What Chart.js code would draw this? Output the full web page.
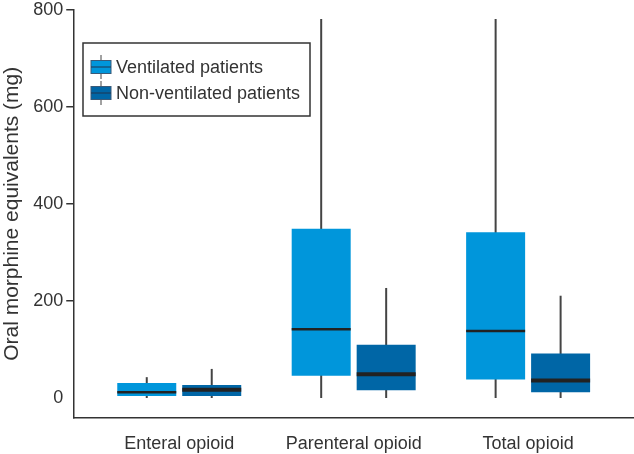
<!DOCTYPE html>
<html>
<head>
<meta charset="utf-8">
<script src="https://cdn.jsdelivr.net/npm/chart.js@4"></script>
<style>
  body { margin: 0; background: #fff; }
  #wrap { width: 634px; height: 454px; }
</style>
</head>
<body>
<div id="wrap"><canvas id="boxChart"></canvas></div>
<script>
// categories and tick values
const categories = ['Enteral opioid', 'Parenteral opioid', 'Total opioid'];
const yTicks = [0, 200, 400, 600, 800];

// ventilated patients (mg)
const ventMin = [0, 0, 0];
const ventQ1 = [4, 46, 38];
const ventMedian = [12, 142, 138];
const ventQ3 = [31, 349, 342];
const ventMax = [43, 782, 782];

// non-ventilated patients (mg)
const nonMin = [0, 0, 0];
const nonQ1 = [4, 16, 12];
const nonMedian = [17, 49, 36];
const nonQ3 = [27, 110, 92];
const nonMax = [60, 227, 211];

const FONT = "'Liberation Sans', Arial, sans-serif";
const INK = '#333';

function boxData(q1, q3) {
    return categories.map((c, i) => ({ x: i, y: [q1[i], q3[i]] }));
}

// whiskers go behind the boxes, medians on top
const boxParts = {
    id: 'boxParts',
    beforeDatasetsDraw(chart) {
        const ctx = chart.ctx;
        const y = chart.scales.y;
        chart.data.datasets.forEach((ds, d) => {
            const meta = chart.getDatasetMeta(d);
            meta.data.forEach((bar, i) => {
                ctx.save();
                ctx.strokeStyle = '#444';
                ctx.lineWidth = 2;
                ctx.beginPath();
                ctx.moveTo(bar.x, y.getPixelForValue(ds.whiskerMin[i]));
                ctx.lineTo(bar.x, y.getPixelForValue(ds.whiskerMax[i]));
                ctx.stroke();
                ctx.restore();
            });
        });
    },
    afterDatasetsDraw(chart) {
        const ctx = chart.ctx;
        const y = chart.scales.y;
        chart.data.datasets.forEach((ds, d) => {
            const meta = chart.getDatasetMeta(d);
            meta.data.forEach((bar, i) => {
                const py = y.getPixelForValue(ds.median[i]);
                ctx.save();
                ctx.strokeStyle = '#222';
                ctx.lineWidth = ds.medianWidth;
                ctx.beginPath();
                ctx.moveTo(bar.x - bar.width / 2, py);
                ctx.lineTo(bar.x + bar.width / 2, py);
                ctx.stroke();
                ctx.restore();
            });
        });
    }
};

// framed legend with small box-plot icons
const boxLegend = {
    id: 'boxLegend',
    afterDraw(chart) {
        const ctx = chart.ctx;
        const left = 83, top = 43, w = 227, h = 73;
        ctx.save();
        ctx.fillStyle = '#fff';
        ctx.fillRect(left, top, w, h);
        ctx.strokeStyle = INK;
        ctx.lineWidth = 1.5;
        ctx.strokeRect(left, top, w, h);
        chart.data.datasets.forEach((ds, d) => {
            const cy = 67 + d * 26;
            const ix = 91, iw = 20, ih = 13;
            ctx.strokeStyle = '#444';
            ctx.lineWidth = 1;
            ctx.beginPath();
            ctx.moveTo(ix + iw / 2, cy - 12);
            ctx.lineTo(ix + iw / 2, cy + 12);
            ctx.stroke();
            ctx.fillStyle = ds.backgroundColor;
            ctx.fillRect(ix, cy - ih / 2, iw, ih);
            ctx.strokeStyle = '#3a5a78';
            ctx.strokeRect(ix, cy - ih / 2, iw, ih);
            ctx.strokeStyle = '#1f3550';
            ctx.beginPath();
            ctx.moveTo(ix, cy);
            ctx.lineTo(ix + iw, cy);
            ctx.stroke();
            ctx.fillStyle = INK;
            ctx.font = '18px ' + FONT;
            ctx.textBaseline = 'middle';
            ctx.fillText(ds.label, 116, cy + 1);
        });
        ctx.restore();
    }
};

const ctx = document.getElementById('boxChart').getContext('2d');
new Chart(ctx, {
    type: 'bar',
    data: {
        datasets: [
            {
                label: 'Ventilated patients',
                data: boxData(ventQ1, ventQ3),
                median: ventMedian,
                whiskerMin: ventMin,
                whiskerMax: ventMax,
                medianWidth: 2.5,
                backgroundColor: '#0096db',
                borderWidth: 0,
                categoryPercentage: 0.745,
                barPercentage: 0.908
            },
            {
                label: 'Non-ventilated patients',
                data: boxData(nonQ1, nonQ3),
                median: nonMedian,
                whiskerMin: nonMin,
                whiskerMax: nonMax,
                medianWidth: 4,
                backgroundColor: '#0066a6',
                borderWidth: 0,
                categoryPercentage: 0.745,
                barPercentage: 0.908
            }
        ]
    },
    options: {
        responsive: true,
        maintainAspectRatio: false,
        animation: false,
        layout: { padding: { top: 0, right: 0, left: 0, bottom: -17 } },
        scales: {
            x: {
                type: 'linear',
                offset: false,
                min: -0.602,
                max: 2.607,
                afterBuildTicks: (scale) => {
                    scale.ticks = categories.map((c, i) => ({ value: i }));
                },
                ticks: {
                    callback: (v) => categories[v],
                    font: { family: FONT, size: 18 },
                    color: INK,
                    padding: 16,
                    maxRotation: 0
                },
                grid: { display: false, drawTicks: false },
                border: { display: true, color: INK, width: 1.5 }
            },
            y: {
                min: -40,
                max: 800,
                afterBuildTicks: (scale) => {
                    scale.ticks = yTicks.map(v => ({ value: v }));
                },
                ticks: {
                    font: { family: FONT, size: 18, lineHeight: 0.8 },
                    color: INK,
                    padding: 3
                },
                grid: {
                    drawOnChartArea: false,
                    drawTicks: true,
                    tickLength: 8,
                    // no tick mark at zero in the original
                    color: (c) => (c.tick && c.tick.value === 0) ? 'rgba(0,0,0,0)' : INK,
                    lineWidth: 1.5
                },
                border: { display: true, color: INK, width: 1.5 },
                title: {
                    display: true,
                    text: 'Oral morphine equivalents (mg)',
                    font: { family: FONT, size: 21 },
                    color: INK,
                    padding: { top: 0, bottom: 5 }
                }
            }
        },
        plugins: {
            legend: { display: false },
            tooltip: { enabled: false }
        }
    },
    plugins: [boxParts, boxLegend]
});
</script>
</body>
</html>
